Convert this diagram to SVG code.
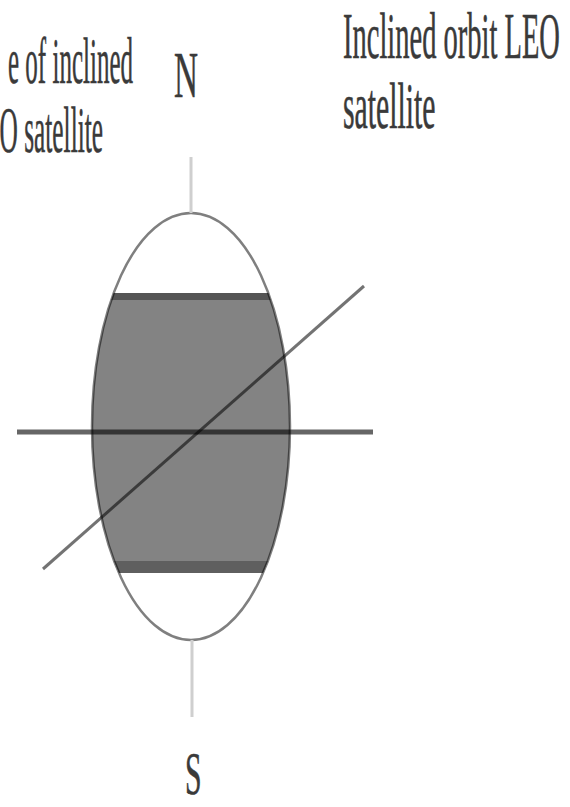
<svg xmlns="http://www.w3.org/2000/svg" width="570" height="807" viewBox="0 0 570 807">
  <style>
    .lbl { font-family: "Liberation Serif", "Times New Roman", serif; font-size: 66px; fill: #3a3a3a; stroke: #3a3a3a; stroke-width: 0.6; }
    .axis { stroke: #cfcfcf; stroke-width: 3; fill: none; }
    .line { stroke: #000; fill: none; }
  </style>
  <defs>
    <clipPath id="band">
      <rect x="0" y="293" width="570" height="280"/>
    </clipPath>
    <clipPath id="ell">
      <ellipse cx="191" cy="426.5" rx="99" ry="213.5"/>
    </clipPath>
  </defs>
  <rect width="570" height="807" fill="#fff"/>

  <g id="labels">
    <text class="lbl" transform="translate(133,83) scale(0.379,1)" text-anchor="end">e of inclined</text>
    <text class="lbl" transform="translate(103,152) scale(0.384,1)" text-anchor="end">O satellite</text>
    <text class="lbl" transform="translate(343,58) scale(0.432,1)">Inclined orbit LEO</text>
    <text class="lbl" transform="translate(343,128) scale(0.451,1)">satellite</text>
  </g>
  <g id="north">
    <text class="lbl" transform="translate(174,97) scale(0.503,1)">N</text>
  </g>
  <g id="south">
    <text class="lbl" transform="translate(185,794) scale(0.48,1)" style="font-size:62px">S</text>
  </g>

  <g id="earth">
    <ellipse cx="191" cy="426.5" rx="99" ry="213.5" fill="#838383" clip-path="url(#band)"/>
    <g clip-path="url(#ell)">
      <rect x="80" y="293" width="220" height="7" fill="#555"/>
      <rect x="80" y="561" width="220" height="12" fill="#5f5f5f"/>
    </g>
    <ellipse cx="191" cy="426.5" rx="99" ry="213.5" fill="none" stroke="#000" stroke-opacity="0.5" stroke-width="2.5"/>
  </g>

  <g id="connectors">
    <line class="axis" x1="191" y1="157" x2="191" y2="213"/>
    <line class="axis" x1="192" y1="640" x2="192" y2="717"/>
    <line class="line" x1="17" y1="432" x2="373" y2="432" stroke-width="5" stroke-opacity="0.6"/>
    <line class="line" x1="43" y1="569" x2="364" y2="286" stroke-width="3" stroke-opacity="0.55"/>
  </g>
</svg>
